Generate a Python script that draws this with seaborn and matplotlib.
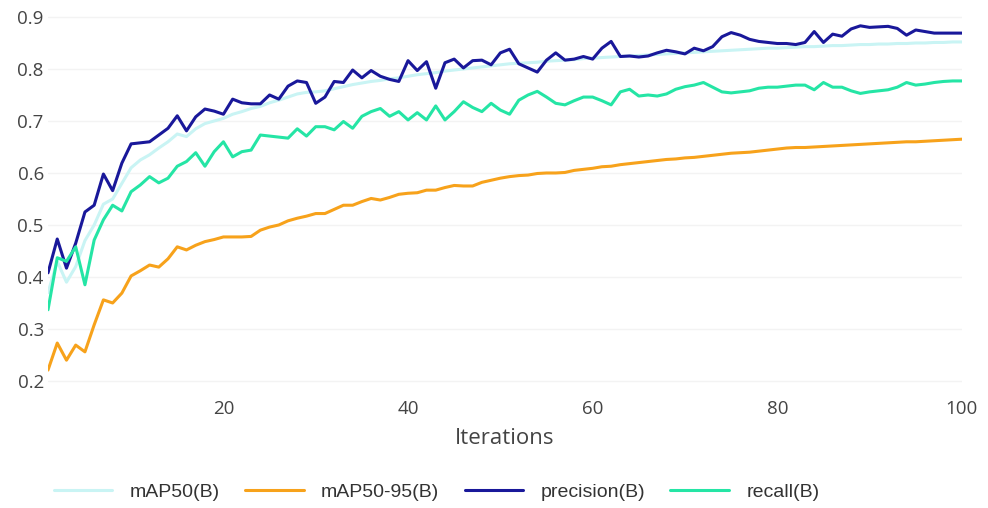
import pandas as pd
import matplotlib.pyplot as plt
import seaborn as sns

# values
iterations = list(range(1, 101))

map50 = [0.370, 0.430, 0.390, 0.420, 0.470, 0.500, 0.540, 0.550, 0.580, 0.610,
         0.625, 0.635, 0.648, 0.660, 0.675, 0.670, 0.685, 0.695, 0.700, 0.705,
         0.713, 0.718, 0.724, 0.728, 0.735, 0.740, 0.746, 0.752, 0.755, 0.756,
         0.758, 0.762, 0.766, 0.770, 0.773, 0.776, 0.778, 0.781, 0.783, 0.786,
         0.789, 0.791, 0.793, 0.796, 0.798, 0.800, 0.802, 0.804, 0.806, 0.808,
         0.810, 0.811, 0.812, 0.813, 0.815, 0.816, 0.817, 0.818, 0.820, 0.821,
         0.822, 0.823, 0.824, 0.825, 0.826, 0.827, 0.828, 0.829, 0.830, 0.831,
         0.832, 0.833, 0.834, 0.835, 0.836, 0.837, 0.838, 0.839, 0.840, 0.840,
         0.841, 0.842, 0.843, 0.843, 0.844, 0.845, 0.845, 0.846, 0.847, 0.847,
         0.848, 0.848, 0.849, 0.849, 0.850, 0.850, 0.851, 0.851, 0.852, 0.852]

map50_95 = [0.221, 0.273, 0.240, 0.269, 0.256, 0.308, 0.356, 0.350, 0.369, 0.402,
            0.412, 0.423, 0.419, 0.435, 0.458, 0.452, 0.461, 0.468, 0.472, 0.477,
            0.477, 0.477, 0.478, 0.490, 0.496, 0.500, 0.508, 0.513, 0.517, 0.522,
            0.522, 0.530, 0.538, 0.538, 0.545, 0.551, 0.548, 0.553, 0.559, 0.561,
            0.562, 0.567, 0.567, 0.572, 0.576, 0.575, 0.575, 0.582, 0.586, 0.590,
            0.593, 0.595, 0.596, 0.599, 0.600, 0.600, 0.601, 0.605, 0.607, 0.609,
            0.612, 0.613, 0.616, 0.618, 0.620, 0.622, 0.624, 0.626, 0.627, 0.629,
            0.630, 0.632, 0.634, 0.636, 0.638, 0.639, 0.640, 0.642, 0.644, 0.646,
            0.648, 0.649, 0.649, 0.650, 0.651, 0.652, 0.653, 0.654, 0.655, 0.656,
            0.657, 0.658, 0.659, 0.660, 0.660, 0.661, 0.662, 0.663, 0.664, 0.665]

precision = [0.408, 0.473, 0.417, 0.465, 0.525, 0.538, 0.598, 0.566, 0.619, 0.656,
             0.658, 0.660, 0.673, 0.686, 0.710, 0.681, 0.708, 0.723, 0.719, 0.713,
             0.742, 0.735, 0.733, 0.733, 0.750, 0.742, 0.767, 0.777, 0.774, 0.734,
             0.746, 0.776, 0.774, 0.798, 0.783, 0.797, 0.786, 0.780, 0.776, 0.816,
             0.797, 0.814, 0.763, 0.812, 0.819, 0.802, 0.816, 0.817, 0.808, 0.831,
             0.838, 0.810, 0.802, 0.794, 0.817, 0.831, 0.817, 0.819, 0.824, 0.819,
             0.840, 0.853, 0.824, 0.825, 0.823, 0.825, 0.831, 0.836, 0.833, 0.829,
             0.840, 0.835, 0.843, 0.862, 0.870, 0.865, 0.857, 0.853, 0.851, 0.849,
             0.849, 0.847, 0.851, 0.872, 0.851, 0.867, 0.863, 0.877, 0.883, 0.880,
             0.881, 0.882, 0.878, 0.865, 0.875, 0.872, 0.869, 0.869, 0.869, 0.869]

recall = [0.337, 0.437, 0.430, 0.458, 0.385, 0.471, 0.510, 0.538, 0.527, 0.564,
          0.577, 0.593, 0.581, 0.590, 0.613, 0.622, 0.639, 0.613, 0.641, 0.660,
          0.631, 0.641, 0.644, 0.673, 0.671, 0.669, 0.667, 0.685, 0.671, 0.689,
          0.689, 0.683, 0.699, 0.686, 0.709, 0.718, 0.724, 0.709, 0.718, 0.702,
          0.716, 0.702, 0.729, 0.702, 0.718, 0.737, 0.726, 0.718, 0.734, 0.721,
          0.713, 0.740, 0.750, 0.757, 0.746, 0.734, 0.731, 0.739, 0.746, 0.746,
          0.739, 0.731, 0.756, 0.761, 0.748, 0.750, 0.748, 0.752, 0.761, 0.766,
          0.769, 0.774, 0.765, 0.756, 0.754, 0.756, 0.758, 0.763, 0.765, 0.765,
          0.767, 0.769, 0.769, 0.760, 0.774, 0.765, 0.765, 0.758, 0.753, 0.756,
          0.758, 0.760, 0.765, 0.774, 0.769, 0.771, 0.774, 0.776, 0.777, 0.777]

series_names = ["mAP50(B)", "mAP50-95(B)", "precision(B)", "recall(B)"]
series_colors = ["#c9f4f4", "#f7a21b", "#19189a", "#25e5a5"]

# long-form table for seaborn
frames = []
for name, vals in zip(series_names, [map50, map50_95, precision, recall]):
    frames.append(pd.DataFrame({"Iterations": iterations, "value": vals, "metric": name}))
df = pd.concat(frames, ignore_index=True)

sns.set_theme(style="white")
plt.rcParams["font.family"] = ["Open Sans", "DejaVu Sans"]

fig = plt.figure(figsize=(9.88, 5.08), dpi=100)
ax = fig.add_axes([0.0486, 0.2398, 0.925, 0.737])

sns.lineplot(data=df, x="Iterations", y="value", hue="metric",
             hue_order=series_names, palette=series_colors,
             linewidth=2.2, ax=ax, legend=False)

ax.set_xlim(1, 100)
ax.set_ylim(0.19, 0.91)
ax.set_xticks([20, 40, 60, 80, 100])
ax.set_yticks([0.2, 0.3, 0.4, 0.5, 0.6, 0.7, 0.8, 0.9])
ax.set_yticklabels(["0.2", "0.3", "0.4", "0.5", "0.6", "0.7", "0.8", "0.9"])
ax.grid(axis="y", color="#f3f3f3", linewidth=1)
ax.tick_params(axis="both", length=0, labelsize=13.5, labelcolor="#444444", pad=3)
ax.tick_params(axis="x", pad=10)
for s in ax.spines.values():
    s.set_visible(False)

ax.set_xlabel("Iterations", fontsize=16, color="#444444", labelpad=7)
ax.set_ylabel("")

# legend along the bottom
handles = [plt.Line2D([0], [0], color=c, linewidth=2.2) for c in series_colors]
fig.legend(handles, series_names, loc="center", bbox_to_anchor=(0.442, 0.031),
           ncol=4, frameon=False, handlelength=3.0, handletextpad=0.9,
           columnspacing=1.3,
           prop={"family": ["Liberation Sans", "DejaVu Sans"], "size": 14},
           labelcolor="#333333")

fig.savefig("out.png", dpi=100, facecolor="white")
plt.close(fig)
